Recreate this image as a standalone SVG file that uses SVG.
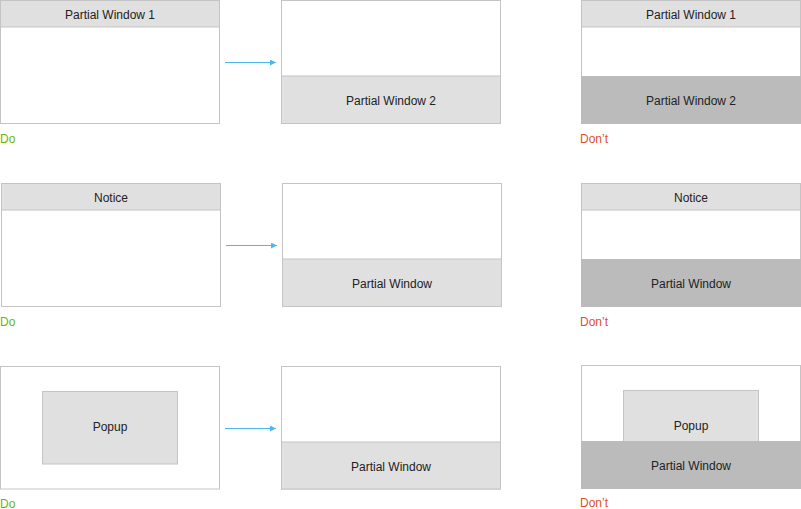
<svg xmlns="http://www.w3.org/2000/svg" width="801" height="509" viewBox="0 0 801 509">
<defs>
<style>
.frame{fill:#ffffff;stroke:#c4c4c4;stroke-width:1}
.hdr{fill:#e0e0e0;stroke:#c4c4c4;stroke-width:1}
.dark{fill:#bbbbbb;stroke:none}
.lbl{font-family:"Liberation Sans",Arial,sans-serif;font-size:12px;fill:#222222;text-anchor:middle}
.do{font-family:"Liberation Sans",Arial,sans-serif;font-size:12px;fill:#6ab800}
.dont{font-family:"Liberation Sans",Arial,sans-serif;font-size:12px;fill:#e0502c}
.arr{stroke:#4db8f0;stroke-width:1.2;fill:none;marker-end:url(#ah)}
</style>
<marker id="ah" markerWidth="6" markerHeight="6" refX="6" refY="3" orient="auto" markerUnits="userSpaceOnUse">
<path d="M0,0 L6,3 L0,6 Z" fill="#4db8f0"/>
</marker>
</defs>
<rect width="801" height="509" fill="#ffffff"/>

<!-- Row 1 -->
<g id="r1-left">
<rect class="frame" x="0.5" y="0.5" width="219" height="123"/>
<rect class="hdr" x="0.5" y="0.5" width="219" height="26.5"/>
<text class="lbl" x="110" y="18.5">Partial Window 1</text>
<text class="do" x="0" y="142.5">Do</text>
</g>
<g id="r1-mid">
<rect class="frame" x="281.5" y="0.5" width="219" height="123"/>
<rect class="hdr" x="281.5" y="76" width="219" height="47.5"/>
<text class="lbl" x="391" y="104.5">Partial Window 2</text>
</g>
<g id="r1-right">
<rect class="frame" x="581.5" y="0.5" width="219" height="123"/>
<rect class="hdr" x="581.5" y="0.5" width="219" height="26.5"/>
<rect class="dark" x="581" y="76" width="220" height="48"/>
<text class="lbl" x="691" y="18.5">Partial Window 1</text>
<text class="lbl" x="691" y="104.5">Partial Window 2</text>
<text class="dont" x="580" y="142.5">Don’t</text>
</g>

<!-- Row 2 -->
<g id="r2-left">
<rect class="frame" x="1.5" y="183.5" width="219" height="123"/>
<rect class="hdr" x="1.5" y="183.5" width="219" height="26.5"/>
<text class="lbl" x="111" y="201.5">Notice</text>
<text class="do" x="0" y="325.5">Do</text>
</g>
<g id="r2-mid">
<rect class="frame" x="282.5" y="183.5" width="219" height="123"/>
<rect class="hdr" x="282.5" y="259" width="219" height="47.5"/>
<text class="lbl" x="392" y="287.5">Partial Window</text>
</g>
<g id="r2-right">
<rect class="frame" x="581.5" y="183.5" width="219" height="123"/>
<rect class="hdr" x="581.5" y="183.5" width="219" height="26.5"/>
<rect class="dark" x="581" y="259" width="220" height="48"/>
<text class="lbl" x="691" y="201.5">Notice</text>
<text class="lbl" x="691" y="287.5">Partial Window</text>
<text class="dont" x="580" y="325.5">Don’t</text>
</g>

<!-- Row 3 -->
<g id="r3-left">
<rect class="frame" x="0.5" y="366.5" width="219" height="122.5"/>
<rect class="hdr" x="42.5" y="391.5" width="135" height="72.5"/>
<text class="lbl" x="110" y="431">Popup</text>
<text class="do" x="0" y="507.5">Do</text>
</g>
<g id="r3-mid">
<rect class="frame" x="281.5" y="366.5" width="219" height="122.5"/>
<rect class="hdr" x="281.5" y="442" width="219" height="47"/>
<text class="lbl" x="391" y="470.5">Partial Window</text>
</g>
<g id="r3-right">
<rect class="frame" x="581.5" y="365.5" width="219" height="123"/>
<rect class="hdr" x="623.5" y="390.5" width="135" height="51"/>
<rect class="dark" x="581" y="441" width="220" height="48"/>
<text class="lbl" x="691" y="430">Popup</text>
<text class="lbl" x="691" y="469.5">Partial Window</text>
<text class="dont" x="580" y="507">Don’t</text>
</g>

<g id="connectors">
<line class="arr" x1="225" y1="62.5" x2="276" y2="62.5"/>
<line class="arr" x1="226" y1="245.5" x2="277" y2="245.5"/>
<line class="arr" x1="225" y1="428.5" x2="276" y2="428.5"/>
</g>
</svg>
